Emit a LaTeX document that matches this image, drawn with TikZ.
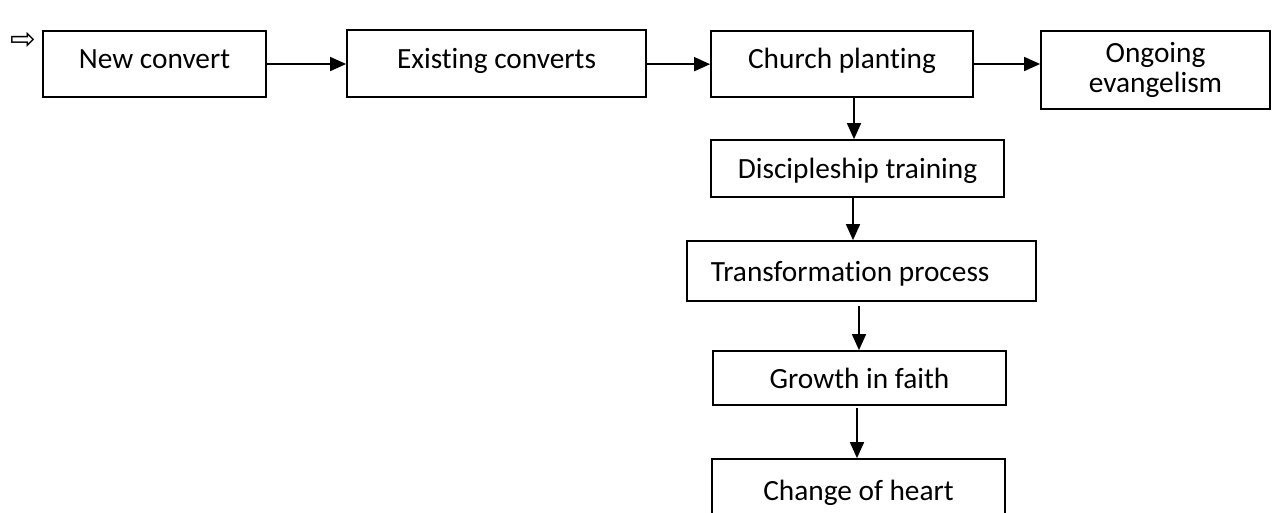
\documentclass[tikz,border=0pt]{standalone}
\usepackage{fontspec}
\setmainfont[Ligatures=NoCommon]{Carlito}
\newfontfamily\symfont{DejaVu Sans}
\usetikzlibrary{arrows.meta}
\begin{document}
\begin{tikzpicture}[x=0.75pt,y=-0.75pt,
  box/.style={draw,line width=1.3pt,inner sep=0pt,align=center,
    font=\fontsize{22}{23}\selectfont,text height=20pt,text depth=4.5pt},
  toprow/.style={text depth=13pt},
  arr/.style={line width=1.3pt,-{Triangle[length=12pt,width=10.5pt]}}]
\clip (0,0) rectangle (1275,512);
\node[box,toprow,minimum width=167.25pt,minimum height=49.5pt] (nc) at (154.5,64) {New convert};
\node[box,toprow,minimum width=224.25pt,minimum height=50.25pt] (ec) at (496.5,63.5) {Existing converts};
\node[box,toprow,minimum width=196.5pt,minimum height=49.5pt] (cp) at (842,64) {Church planting};
\node[box,minimum width=171.75pt,minimum height=58.5pt,text height=,text depth=] (oe) at (1155.5,70) {Ongoing\\evangelism};
\node[box,minimum width=219.75pt,minimum height=42.75pt] (dt) at (857.5,168.5) {Discipleship training};
\node[box,minimum width=261.75pt,minimum height=45pt] (tp) at (861.5,271) {Transformation process\hspace*{17pt}};
\node[box,minimum width=219.75pt,minimum height=40.5pt] (gf) at (859.5,378) {Growth in faith};
\node[box,minimum width=219.75pt,minimum height=46.5pt] (ch) at (858.5,490) {Change of heart};
\node[font=\symfont\fontsize{23}{23}\selectfont,inner sep=0pt] (mk) at (23,41) {⇨};
\draw[arr] (nc.east) -- (nc.east -| ec.west);
\draw[arr] ([yshift=-0.5pt]ec.east) -- ([yshift=-0.5pt]ec.east -| cp.west);
\draw[arr] (cp.east) -- (cp.east -| oe.west);
\draw[arr] ([xshift=9pt]cp.south) -- ([xshift=9pt]cp.south |- dt.north);
\draw[arr] ([xshift=-3.375pt]dt.south) -- ([xshift=-3.375pt]dt.south |- tp.north);
\draw[arr,shorten <=3pt] ([xshift=-1.875pt]tp.south) -- ([xshift=-1.875pt]tp.south |- gf.north);
\draw[arr,shorten <=1.5pt] ([xshift=-1.875pt]gf.south) -- ([xshift=-1.875pt]gf.south |- ch.north);
\end{tikzpicture}
\end{document}
